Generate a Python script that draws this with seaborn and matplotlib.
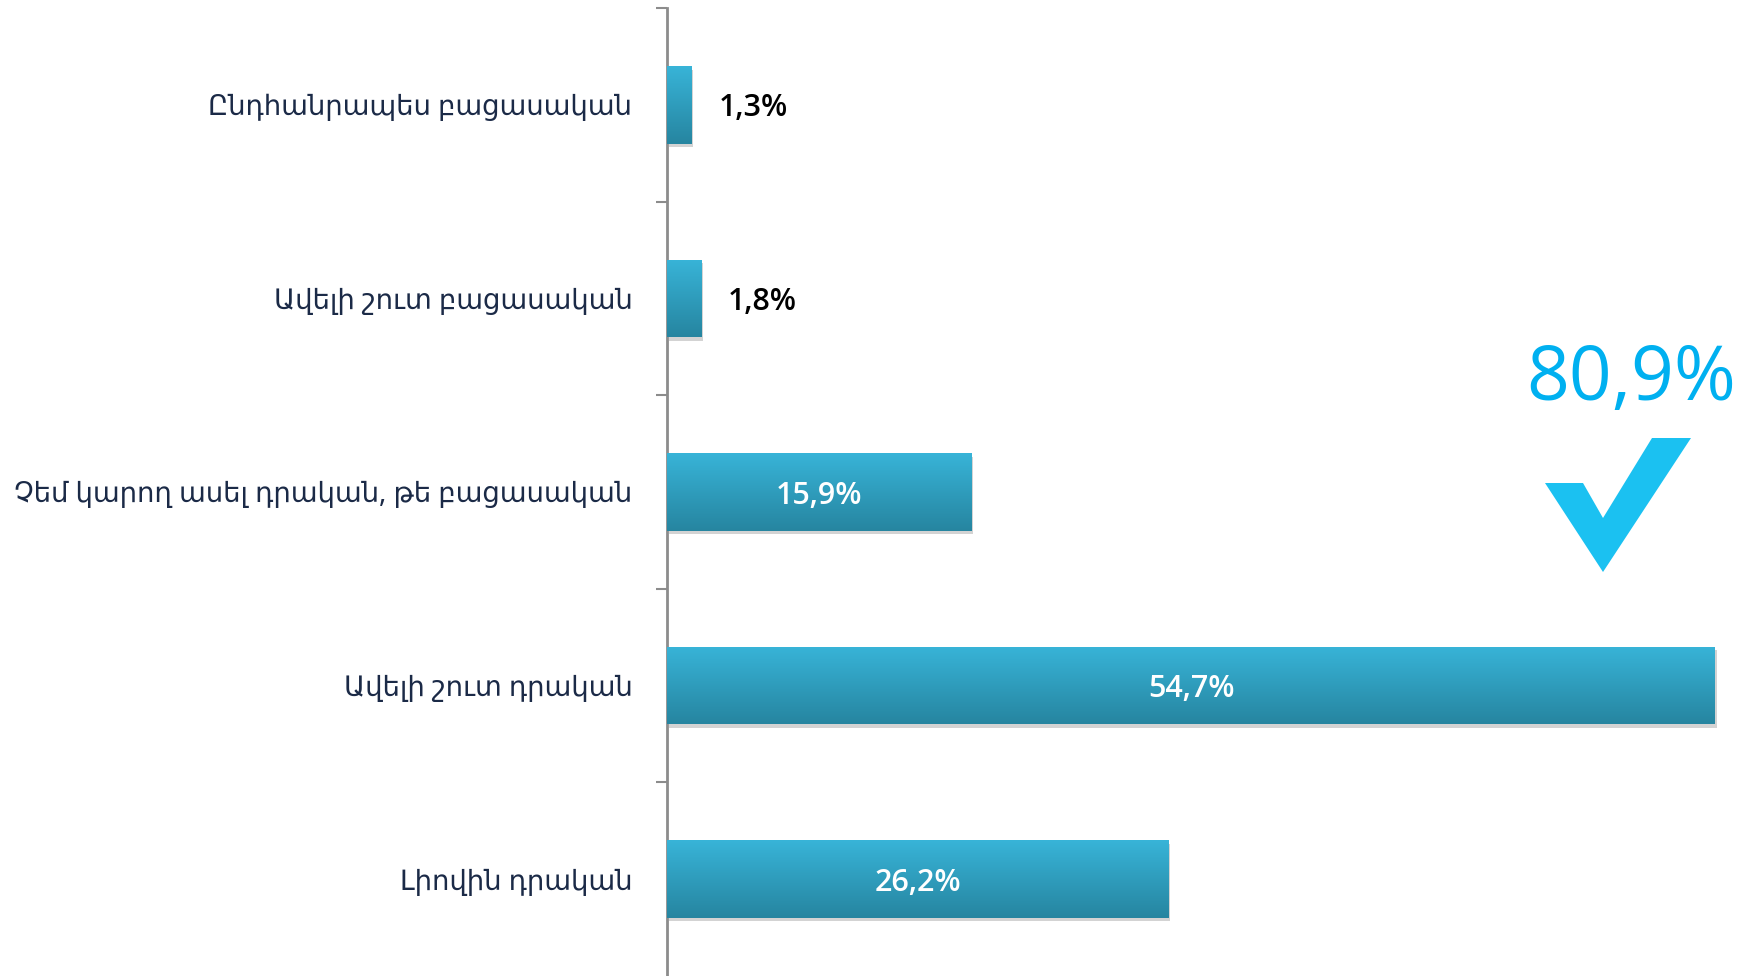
import numpy as np
import pandas as pd
import matplotlib
matplotlib.use("Agg")
import matplotlib.pyplot as plt
import seaborn as sns
from matplotlib import transforms
from matplotlib.patches import Rectangle, Polygon
from matplotlib.colors import LinearSegmentedColormap

categories = [
    "Ընդհանրապես բացասական",
    "Ավելի շուտ բացասական",
    "Չեմ կարող ասել դրական, թե բացասական",
    "Ավելի շուտ դրական",
    "Լիովին դրական",
]
values = [1.3, 1.8, 15.9, 54.7, 26.2]
value_labels = ["1,3%", "1,8%", "15,9%", "54,7%", "26,2%"]
total_positive_label = "80,9%"

sns.set_theme(style="white")
plt.rcParams["font.family"] = ["Noto Sans", "DejaVu Sans"]

W, H = 1752, 976
fig = plt.figure(figsize=(W / 100, H / 100), dpi=100)
ax_left = 667 / W
ax = fig.add_axes([ax_left, 0, 1 - ax_left, 1 - 8 / H])

df = pd.DataFrame({"cat": categories, "val": values})
sns.barplot(data=df, y="cat", x="val", orient="h", color="#2E9DC0",
            saturation=1, width=0.4, ax=ax)

cmap = LinearSegmentedColormap.from_list("bar", ["#38B4D8", "#2685A0"])
grad = np.linspace(0, 1, 256).reshape(-1, 1)
shadow_tr = ax.transData + transforms.ScaledTranslation(1.5 / 100, -3.5 / 100, fig.dpi_scale_trans)
for p in list(ax.patches):
    x0, y0, w, h = p.get_x(), p.get_y(), p.get_width(), p.get_height()
    sh = Rectangle((x0, y0), w, h, transform=shadow_tr, facecolor="#a8a8a8",
                   alpha=0.5, edgecolor="none", zorder=1)
    ax.add_patch(sh)
    p.set_zorder(2)
    p.set_edgecolor("none")
    im = ax.imshow(grad, cmap=cmap, aspect="auto", origin="upper",
                   extent=(x0, x0 + w, y0 + h, y0), zorder=3, interpolation="bilinear")
    im.set_clip_path(p)

ax.set_xlim(0, (W - 667) / (1715 - 667) * 54.7)
ax.set_ylim(4.5, -0.5)

num_font = ["Open Sans", "DejaVu Sans"]
for i, (v, lab) in enumerate(zip(values, value_labels)):
    if v > 10:
        ax.text(v / 2, i, lab, ha="center", va="center_baseline", color="white",
                fontsize=22, fontweight="semibold", family=num_font, zorder=5)
    else:
        ax.annotate(lab, (v, i), xytext=(19, 0), textcoords="offset points",
                    ha="left", va="center_baseline", color="black", fontsize=22,
                    fontweight="semibold", family=num_font, zorder=5)

for s in ["top", "right", "bottom"]:
    ax.spines[s].set_visible(False)
ax.spines["left"].set_color("#8C8C8C")
ax.spines["left"].set_linewidth(2)
ax.set_xticks([])
ax.set_xlabel("")
ax.set_ylabel("")
ax.set_yticks(range(len(categories)))
ax.set_yticklabels(categories, fontsize=19.8, color="#1B2A47")
ax.set_yticks([-0.5, 0.5, 1.5, 2.5, 3.5], minor=True)
ax.tick_params(axis="y", which="major", left=True, length=0, pad=25)
ax.tick_params(axis="y", which="minor", left=True, length=8, width=1.5,
               color="#8C8C8C", direction="out")
ax.set_facecolor("white")

fig.text(1631 / W, 1 - 380 / H, total_positive_label, ha="center", va="center",
         fontsize=54, color="#00B0F0", family=num_font)
pts = [(1545, 483), (1583, 483), (1603, 518), (1652, 438), (1691, 438), (1603, 572)]
check = Polygon([(x / W, 1 - y / H) for x, y in pts], closed=True,
                transform=fig.transFigure, facecolor="#1BC1F1", edgecolor="none")
fig.patches.append(check)

fig.savefig("out.png", dpi=100, facecolor="white")
